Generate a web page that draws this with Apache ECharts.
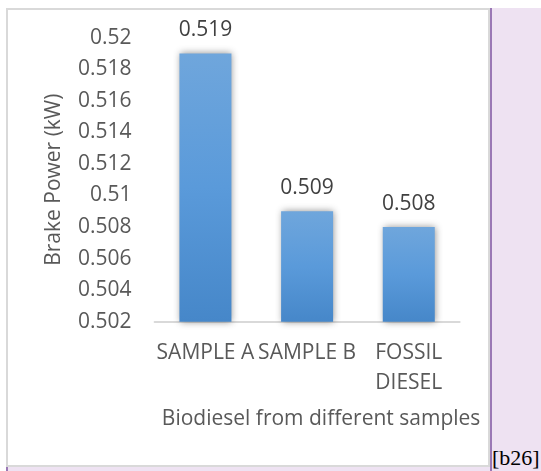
<!DOCTYPE html>
<html><head><meta charset="utf-8">
<script src="https://cdn.jsdelivr.net/npm/echarts@6/dist/echarts.min.js"></script>
<style>
html,body{margin:0;padding:0;width:541px;height:471px;overflow:hidden;background:#fff;}
#bg{position:absolute;left:6px;top:8px;width:535px;height:463px;background:#EEE2F2;}
#panel{position:absolute;left:6px;top:8px;width:480px;height:455px;background:#fff;border:2px solid #D9D9D9;}
#vline{position:absolute;left:490px;top:8px;width:2px;height:463px;background:#9A78B5;}
#tick{position:absolute;left:6px;top:467px;width:2px;height:4px;background:#9A78B5;}
#ref{position:absolute;left:492px;top:446px;font-family:"Liberation Serif","DejaVu Serif",serif;font-size:22px;line-height:24px;color:#000;white-space:nowrap;}
#chart{position:absolute;left:0;top:0;width:541px;height:471px;}
</style></head>
<body>
<div id="bg"></div>
<div id="panel"></div>
<div id="vline"></div>
<div id="tick"></div>
<div id="ref">[b26]</div>
<div id="chart"></div>
<script>
const categories = ['SAMPLE A', 'SAMPLE B', 'FOSSIL\nDIESEL'];
const brakePower = [0.519, 0.509, 0.508];
const yMin = 0.502, yMax = 0.52, yStep = 0.002;
const xTitle = 'Biodiesel from different samples';
const yTitle = 'Brake Power (kW)';

const FONT = '"Open Sans", "Noto Sans", sans-serif';
const chart = echarts.init(document.getElementById('chart'), null, {renderer: 'canvas'});
chart.setOption({
  backgroundColor: 'transparent',
  animation: false,
  grid: {left: 154.6, right: 81.4, top: 37.7, bottom: 149.3},
  xAxis: {
    type: 'category',
    data: categories,
    axisLine: {lineStyle: {color: '#D9D9D9', width: 2}},
    axisTick: {show: false},
    axisLabel: {interval: 0, fontSize: 21, color: '#595959', margin: 16, lineHeight: 30, fontFamily: FONT},
    name: xTitle,
    nameLocation: 'middle',
    nameGap: 87,
    nameTextStyle: {fontSize: 21, color: '#595959', fontFamily: FONT, padding: [0, 0, 0, 28]}
  },
  yAxis: {
    type: 'value',
    min: yMin, max: yMax, interval: yStep,
    axisLine: {show: false},
    axisTick: {show: false},
    splitLine: {show: false},
    axisLabel: {fontSize: 21, color: '#595959', margin: 23, fontFamily: FONT,
      formatter: v => String(parseFloat(v.toFixed(3)))},
    name: yTitle,
    nameLocation: 'middle',
    nameGap: 90,
    nameRotate: 90,
    nameTextStyle: {fontSize: 21, color: '#595959', fontFamily: FONT}
  },
  series: [{
    type: 'bar',
    data: brakePower,
    barWidth: 52,
    itemStyle: {
      color: new echarts.graphic.LinearGradient(0, 0, 0, 1, [
        {offset: 0, color: '#6FA6DC'},
        {offset: 0.5, color: '#5A9ADA'},
        {offset: 1, color: '#4687C9'}
      ]),
      shadowColor: 'rgba(0,0,0,0.42)',
      shadowBlur: 7,
      shadowOffsetX: 1,
      shadowOffsetY: 0
    },
    label: {show: true, position: 'top', distance: 13, fontSize: 21, color: '#404040', fontFamily: FONT,
      formatter: p => p.value.toFixed(3)}
  }]
});
</script>
</body></html>
